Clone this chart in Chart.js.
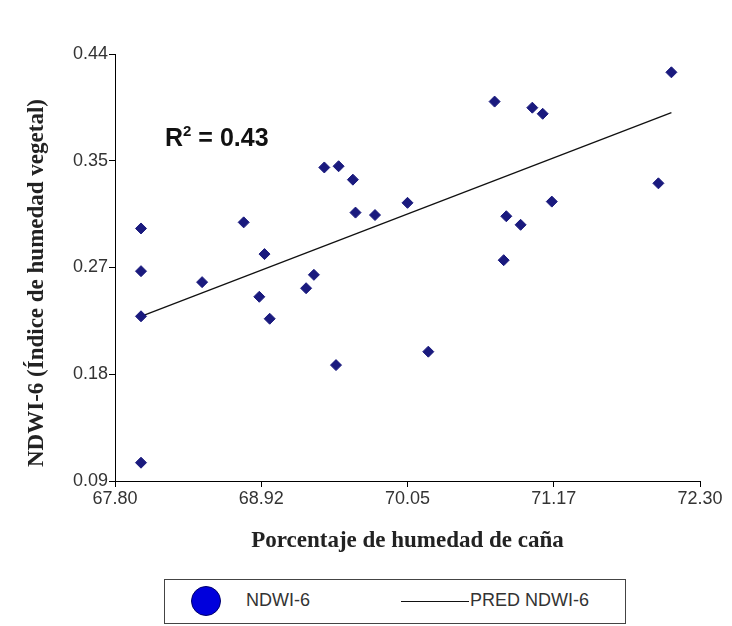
<!DOCTYPE html>
<html>
<head>
<meta charset="utf-8">
<script src="https://cdn.jsdelivr.net/npm/chart.js@4.4.0/dist/chart.umd.min.js"></script>
<style>
    body { margin: 0; background: #fff; }
    #wrap { position: relative; width: 732px; height: 626px; }
    #r2 { position: absolute; left: 165px; top: 125px; font: bold 25px "Liberation Sans", Arial, sans-serif; line-height: 25px; color: #111; }
    #r2 span { position: relative; top: -10px; font-size: 15px; }
    #tituloY { position: absolute; left: 36px; top: 283px; transform: translate(-50%, -50%) rotate(-90deg); white-space: nowrap;
               font: bold 23px "Liberation Serif", "Times New Roman", serif; color: #222; line-height: 26px; }
    #leyenda { position: absolute; left: 164px; top: 579px; width: 462px; height: 45px; box-sizing: border-box; border: 1.5px solid #444; }
    #leyenda .punto { position: absolute; left: 26px; top: 6px; width: 28px; height: 28px; border-radius: 50%; background: #0000dc; border: 1px solid #00006a; }
    #leyenda .txt { position: absolute; top: 10px; font: 18px "Liberation Sans", Arial, sans-serif; color: #333; }
    #leyenda .linea { position: absolute; left: 236px; top: 21px; width: 68px; height: 0; border-top: 1px solid #111; }
</style>
</head>
<body>
<div id="wrap">
    <canvas id="graficoNDWI" width="732" height="570"></canvas>
    <div id="r2">R<span>2</span> = 0.43</div>
    <div id="tituloY">NDWI-6 (Índice de humedad vegetal)</div>
    <div id="leyenda">
        <div class="punto"></div>
        <div class="txt" style="left:81px">NDWI-6</div>
        <div class="linea"></div>
        <div class="txt" style="left:305px">PRED NDWI-6</div>
    </div>
</div>
<script>
// humedad de caña (%) vs NDWI-6
const humedad = [68.00, 68.00, 68.00, 68.00, 68.47, 68.79, 68.95, 68.91, 68.99, 69.27,
                 69.33, 69.41, 69.52, 69.63, 69.65, 69.80, 70.05, 69.50, 70.21, 70.72,
                 71.01, 71.09, 72.08, 71.98, 71.16, 70.81, 70.92, 70.79];
const ndwi = [0.297, 0.262, 0.225, 0.105, 0.253, 0.302, 0.276, 0.241, 0.223, 0.248,
              0.259, 0.347, 0.348, 0.337, 0.310, 0.308, 0.318, 0.185, 0.196, 0.401,
              0.396, 0.391, 0.425, 0.334, 0.319, 0.307, 0.300, 0.271];

// recta de regresion (PRED NDWI-6)
const predX = [68.00, 72.08];
const predY = [0.225, 0.392];

const xTicks = [67.8, 68.925, 70.05, 71.175, 72.3];
const xLabels = ['67.80', '68.92', '70.05', '71.17', '72.30'];
const yTicks = [0.09, 0.1775, 0.265, 0.3525, 0.44];
const yLabels = ['0.09', '0.18', '0.27', '0.35', '0.44'];

const fuenteTick = { family: 'Liberation Sans, Arial, sans-serif', size: 18 };
const fuenteTitulo = { family: 'Liberation Serif, Times New Roman, serif', size: 23, weight: 'bold' };

const ctx = document.getElementById('graficoNDWI').getContext('2d');

window.graficoNDWI = new Chart(ctx, {
    type: 'scatter',
    data: {
        datasets: [{
            label: 'NDWI-6',
            data: humedad.map((x, i) => ({ x: x, y: ndwi[i] })),
            pointStyle: 'rectRot',
            pointRadius: 5.5,
            backgroundColor: '#1a1a7e',
            borderColor: '#1a1a7e',
            borderWidth: 1
        }, {
            label: 'PRED NDWI-6',
            type: 'line',
            data: predX.map((x, i) => ({ x: x, y: predY[i] })),
            borderColor: '#111',
            borderWidth: 1.3,
            pointRadius: 0,
            fill: false
        }]
    },
    options: {
        responsive: false,
        animation: false,
        layout: { padding: { left: 24, top: 54, right: 32, bottom: 15 } },
        plugins: { legend: { display: false }, tooltip: { enabled: false } },
        scales: {
            x: {
                type: 'linear', min: 67.8, max: 72.3,
                afterBuildTicks: s => { s.ticks = xTicks.map(v => ({ value: v })); },
                afterFit: s => { s.height = 74; },
                ticks: { callback: (v, i) => xLabels[i], color: '#333', font: fuenteTick, padding: 1, maxRotation: 0, autoSkip: false },
                grid: { drawOnChartArea: false, tickLength: 6, tickColor: '#000' },
                border: { color: '#000', width: 1 },
                title: { display: true, text: 'Porcentaje de humedad de caña', color: '#222', font: fuenteTitulo, padding: 0 }
            },
            y: {
                type: 'linear', min: 0.09, max: 0.44,
                afterBuildTicks: s => { s.ticks = yTicks.map(v => ({ value: v })); },
                afterFit: s => { s.width = 91; },
                ticks: { callback: (v, i) => yLabels[i], color: '#333', font: fuenteTick, padding: 1, autoSkip: false },
                grid: { drawOnChartArea: false, tickLength: 6, tickColor: '#000' },
                border: { color: '#000', width: 1 }
            }
        }
    }
});
</script>
</body>
</html>
